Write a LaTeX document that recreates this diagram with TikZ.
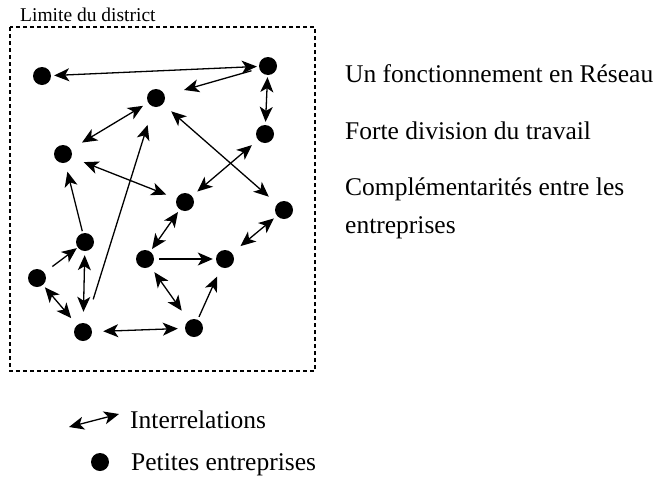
\documentclass[tikz,border=0pt]{standalone}
\usepackage{fontspec}
\setmainfont{Liberation Serif}
\usetikzlibrary{arrows.meta}
\tikzset{
  firm/.style={circle, fill, inner sep=0pt, minimum size=18pt},
  link/.style={draw, -{Stealth[length=15pt, width=13pt, inset=4pt]}, line width=1.3pt},
  twoway/.style={draw, {Stealth[length=15pt, width=13pt, inset=4pt]}-{Stealth[length=15pt, width=13pt, inset=4pt]}, line width=1.3pt},
  txt/.style={anchor=base west, inner sep=0pt, font=\fontsize{25.5}{30}\selectfont}
  }

\begin{document}
\begin{tikzpicture}[x=1pt, y=-1pt]
	\useasboundingbox (0,0) rectangle (658,493);
	% Frame
	\draw [dashed, dash pattern=on 4pt off 3pt, line width=1.1pt] (10,27) rectangle (315,371);
	\node [anchor=base west, inner sep=0pt, font=\fontsize{19.5}{22}\selectfont] (limite) at (20,21) {Limite du district};

	% Nodes
	\node[firm] (e1) at (42,76) {};
	\node[firm] (e2) at (268,66) {};
	\node[firm] (e3) at (156,98) {};
	\node[firm] (e4) at (265,134) {};
	\node[firm] (e5) at (63,154) {};
	\node[firm] (e6) at (185,202) {};
	\node[firm] (e7) at (284,210) {};
	\node[firm] (e8) at (85,242) {};
	\node[firm] (e9) at (37,278) {};
	\node[firm] (e10) at (145,259) {};
	\node[firm] (e11) at (225,259) {};
	\node[firm] (e12) at (83,332) {};
	\node[firm] (e13) at (194,328) {};

	% Arrows
	\draw [twoway, shorten <=3pt, shorten >=2pt] (e1) -- (e2);
	\draw [link, shorten <=8pt, shorten >=20pt] (e2) -- (e3);
	\draw [twoway, shorten <=2pt, shorten >=3pt] (e2) -- (e4);
	\draw [twoway, shorten <=6pt, shorten >=13pt] (e3) -- (e5);
	\draw [link, shorten <=25pt, shorten >=19pt] (e12) -- (e3);
	\draw [twoway, shorten <=13pt, shorten >=11pt] (e5) -- (e6);
	\draw [link, shorten <=2pt, shorten >=9pt] (e8) -- (e5);
	\draw [twoway, shorten <=11pt, shorten >=11pt] (e3) -- (e7);
	\draw [twoway, shorten <=8pt, shorten >=7pt] (e4) -- (e6);
	\draw [twoway, shorten <=3pt, shorten >=3pt] (e6) -- (e10);
	\draw [twoway, shorten <=4pt, shorten >=11pt] (e7) -- (e11);
	\draw [link, shorten <=5pt, shorten >=3pt] (e10) -- (e11);
	\draw [twoway, shorten <=7pt, shorten >=12pt] (e10) -- (e13);
	\draw [link, shorten <=3pt, shorten >=10pt] (e13) -- (e11);
	\draw [twoway, shorten <=11pt, shorten >=7pt] (e12) -- (e13);
	\draw [link, shorten <=10pt, shorten >=1pt] (e9) -- (e8);
	\draw [twoway, shorten <=3pt, shorten >=9pt] (e9) -- (e12);
	\draw [twoway, shorten <=4pt, shorten >=11pt] (e8) -- (e12);

	% Texts
	\node[txt] (reseau) at (345,82) {Un fonctionnement en Réseau};
	\node[txt] (division) at (345,139) {Forte division du travail};
	\node[txt] (compl) at (345,195) {Complémentarités entre les};
	\node[txt] (compl2) at (345,233) {entreprises};

	% Legend
	\coordinate (legA) at (69,427);
	\coordinate (legB) at (119,414);
	\draw [twoway] (legA) -- (legB);
	\node[txt] (interrel) at (130,428) {Interrelations};
	\node[firm] (legdot) at (100,462) {};
	\node[txt] (petites) at (131,470) {Petites entreprises};
\end{tikzpicture}
\end{document}
